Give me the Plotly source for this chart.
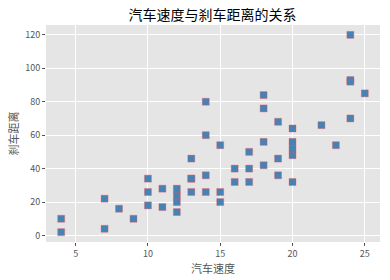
import plotly.graph_objects as go

speed = [4,4,7,7,8,9,10,10,10,11,11,12,12,12,12,13,13,13,13,14,14,14,14,15,15,15,16,16,17,17,17,18,18,18,18,19,19,19,20,20,20,20,20,22,23,24,24,24,24,25]
dist = [2,10,4,22,16,10,18,26,34,17,28,14,20,24,28,26,34,34,46,26,36,60,80,20,26,54,32,40,32,40,50,42,56,76,84,36,46,68,32,48,52,56,64,66,54,70,92,93,120,85]
x_ticks = [5, 10, 15, 20, 25]
y_ticks = [0, 20, 40, 60, 80, 100, 120]

font = "Noto Sans CJK SC, sans-serif"
fig = go.Figure(go.Scatter(
    x=speed, y=dist, mode="markers",
    marker=dict(symbol="square", size=7, color="#4682B4",
                line=dict(color="rgba(255,80,80,0.35)", width=1)),
))
fig.update_layout(
    width=390, height=280,
    margin=dict(l=46, r=10, t=25, b=38),
    paper_bgcolor="white", plot_bgcolor="#E5E5E5",
    showlegend=False,
    title=dict(text="汽车速度与刹车距离的关系", x=0.545, xanchor="center", y=0.945, yanchor="middle",
               font=dict(family=font, size=14, color="black")),
    font=dict(family=font),
)
fig.update_xaxes(range=[2.95, 26.05], tickvals=x_ticks, ticks="outside", ticklen=3, tickcolor="#555",
                 tickfont=dict(size=9, color="#555"), gridcolor="white", gridwidth=1, zeroline=False,
                 showline=False, title=dict(text="汽车速度", font=dict(size=11, color="#555"), standoff=4))
fig.update_yaxes(range=[-3.9, 125.9], tickvals=y_ticks, ticks="outside", ticklen=3, tickcolor="#555",
                 tickfont=dict(size=9, color="#555"), gridcolor="white", gridwidth=1, zeroline=False,
                 showline=False, title=dict(text="刹车距离", font=dict(size=11, color="#555"), standoff=4))
fig.write_html("out.html")
